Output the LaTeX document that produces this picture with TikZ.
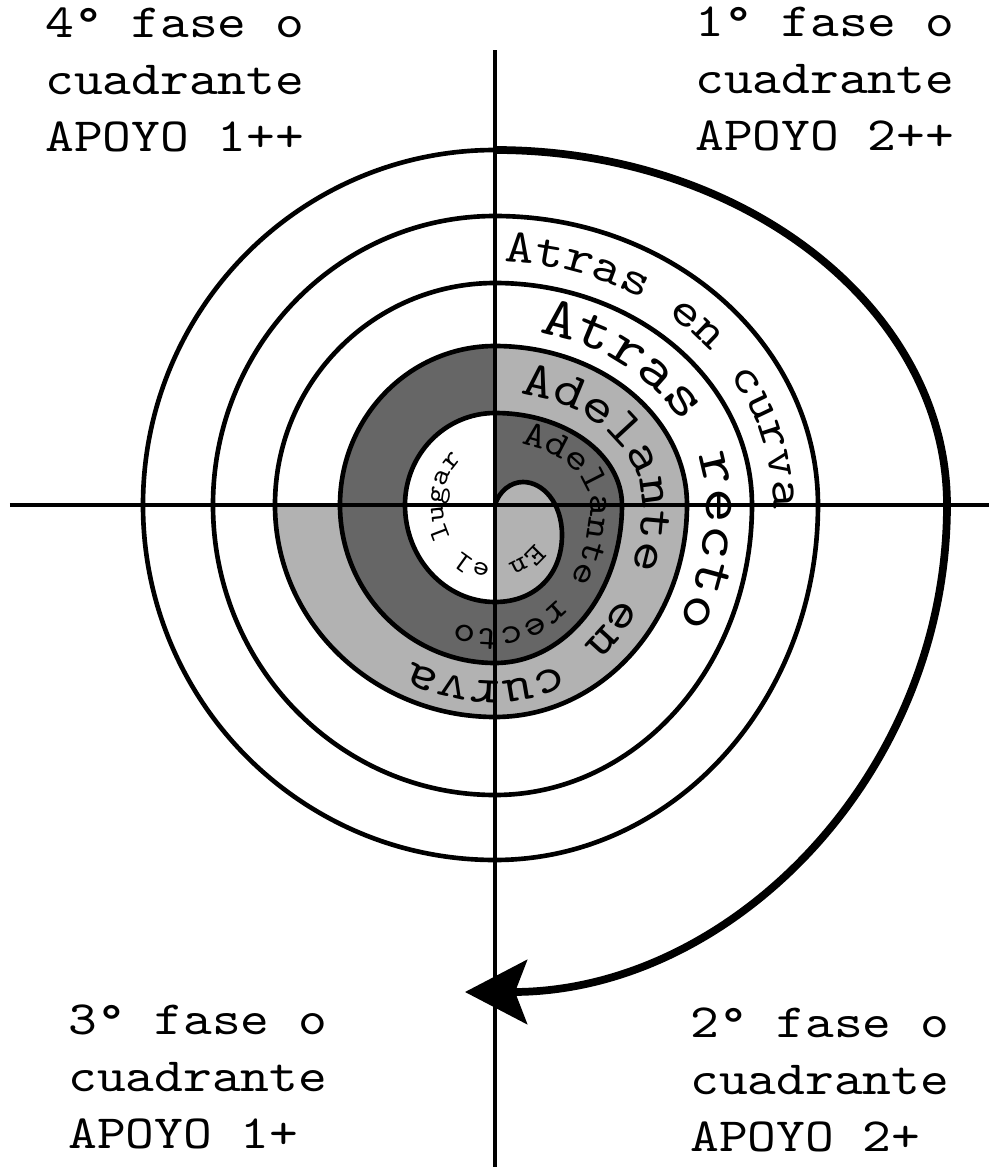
\documentclass[tikz,border=0pt]{standalone}
\usepackage{fontspec}
\setmonofont{lmmono10-regular.otf}[FakeStretch=1.15]
\usetikzlibrary{decorations.text,arrows.meta}
\definecolor{darkband}{gray}{0.4}
\definecolor{lightband}{gray}{0.7}
\newcommand\spiralfont[1]{\ttfamily\fontsize{#1}{#1}\selectfont}
\tikzset{
  spiral/.style={line width=3.3pt, line join=round},
  axis/.style={line width=2.8pt},
  fase/.style={font={\ttfamily\fontsize{33.9pt}{40.5pt}\selectfont}, align=left, anchor=north west, inner sep=0pt},
  along/.style={decorate, decoration={text along path, text={#1}}}
}
\begin{document}
\begin{tikzpicture}[x=0.025cm, y=0.025cm]
    \useasboundingbox (-495,-662) rectangle (494,505);

    \fill[lightband] (0,159) arc[start angle=90, end angle=0, x radius=192, y radius=159]
        arc[start angle=0, end angle=-90, x radius=192, y radius=212]
        arc[start angle=-90, end angle=-180, x radius=220, y radius=212] -- (0,0) -- cycle;
    \fill[darkband] (0,92) arc[start angle=90, end angle=0, x radius=127, y radius=92]
        arc[start angle=0, end angle=-90, x radius=127, y radius=158]
        arc[start angle=-90, end angle=-180, x radius=155, y radius=158]
        arc[start angle=180, end angle=90, x radius=155, y radius=159] -- (0,0) -- cycle;
    \fill[white] (0,-97) arc[start angle=-90, end angle=-180, x radius=90, y radius=97]
        arc[start angle=180, end angle=90, x radius=90, y radius=92] -- cycle;
    \fill[lightband] (0,0) .. controls (4,14) and (16,23) .. (28,23)
        .. controls (48,23) and (67,2) .. (67,-30)
        .. controls (67,-70) and (40,-97) .. (0,-97) -- cycle;

    \coordinate (top) at (0,455);
    \coordinate (bottom) at (0,-662);
    \coordinate (left) at (-485,0);
    \coordinate (right) at (494,0);
    \draw[axis] (left) -- (right);
    \draw[axis] (top) -- (bottom);

    \draw[spiral] (0,0) .. controls (4,14) and (16,23) .. (28,23)
        .. controls (48,23) and (67,2) .. (67,-30)
        .. controls (67,-70) and (40,-97) .. (0,-97)
        \foreach \sa/\rx/\ry in {-90/90/97, 180/90/92, 90/127/92, 0/127/158, -90/155/158, 180/155/159,
            90/192/159, 0/192/212, -90/220/212, 180/220/222, 90/257/222, 0/257/290,
            -90/282/290, 180/282/289, 90/323/289, 0/323/355, -90/352/355, 180/352/355}
        { arc[start angle=\sa, delta angle=-90, x radius=\rx, y radius=\ry] };
    \draw[spiral, line width=5.5pt, -{Stealth[length=1.55cm, width=1.6cm, inset=0.3cm]}] (0,355)
        arc[start angle=90, end angle=0, x radius=452, y radius=355]
        arc[start angle=0, end angle=-90, x radius=482, y radius=487];

    \path[along={|\spiralfont{20pt}|En el lugar}] (-40:52 and 60)
        arc[start angle=-40, end angle=-260, x radius=52, y radius=60];
    \path[along={|\spiralfont{26.3pt}|Adelante recto}] (74:95 and 64)
        arc[start angle=74, end angle=0, x radius=95, y radius=64]
        arc[start angle=0, end angle=-90, x radius=95, y radius=124]
        arc[start angle=-90, end angle=-170, x radius=118, y radius=124];
    \path[along={|\spiralfont{36pt}|Adelante en curva}] (80:147 and 113)
        arc[start angle=80, end angle=0, x radius=147, y radius=113]
        arc[start angle=0, end angle=-90, x radius=147, y radius=176]
        arc[start angle=-90, end angle=-170, x radius=178, y radius=176];
    \path[along={|\spiralfont{41pt}|Atras recto}] (78:211 and 176)
        arc[start angle=78, end angle=0, x radius=211, y radius=176]
        arc[start angle=0, end angle=-90, x radius=211, y radius=237];
    \path[along={|\spiralfont{34pt}|Atras en curva}] (88:278 and 243)
        arc[start angle=88, end angle=-15, x radius=278, y radius=243];

    \node[fase] (q4) at (-450,497) {4° fase o\\cuadrante\\APOYO 1++};
    \node[fase] (q1) at (200,498) {1° fase o\\cuadrante\\APOYO 2++};
    \node[fase] (q3) at (-427,-500) {3° fase o\\cuadrante\\APOYO 1+};
    \node[fase] (q2) at (195,-503) {2° fase o\\cuadrante\\APOYO 2+};
\end{tikzpicture}
\end{document}
